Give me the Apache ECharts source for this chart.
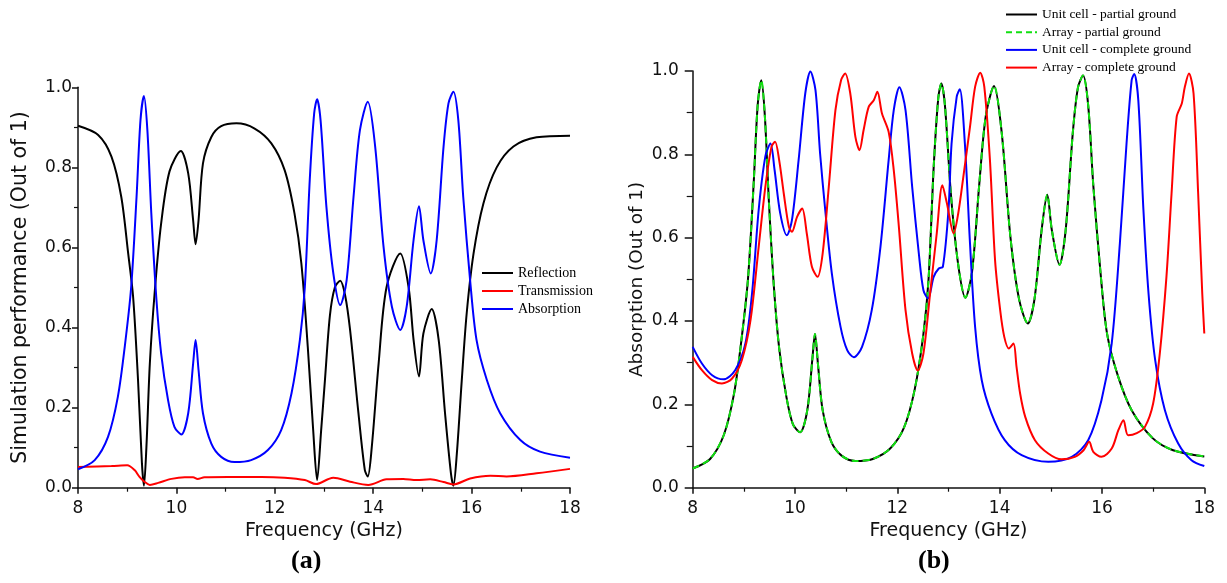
<!DOCTYPE html>
<html>
<head>
<meta charset="utf-8">
<script src="https://cdn.jsdelivr.net/npm/echarts@6/dist/echarts.min.js"></script>
<style>
html,body{margin:0;padding:0;background:#fff;}
#c{width:1227px;height:583px;}
</style>
</head>
<body>
<div id="c"></div>
<script>
// ---------- DATA (frequency GHz, value out of 1) ----------
const xMin = 8, xMax = 18, xStep = 2;
const yMin = 0, yMax = 1, yStep = 0.2;

const leftNames = ['Reflection', 'Transmission', 'Absorption'];
const rightNames = ['Unit cell - partial ground', 'Array - partial ground', 'Unit cell - complete ground', 'Array - complete ground'];

const reflection = [[8.00,0.904],[8.41,0.881],[8.68,0.827],[8.88,0.726],[9.02,0.585],[9.12,0.477],[9.22,0.269],[9.30,0.06],[9.34,0.005],[9.39,0.10],[9.46,0.31],[9.56,0.49],[9.69,0.66],[9.86,0.79],[10.09,0.841],[10.24,0.785],[10.34,0.668],[10.39,0.608],[10.45,0.668],[10.54,0.81],[10.71,0.876],[10.91,0.903],[11.22,0.910],[11.59,0.897],[11.93,0.86],[12.20,0.793],[12.40,0.685],[12.54,0.56],[12.67,0.352],[12.78,0.144],[12.86,0.019],[12.94,0.14],[13.02,0.27],[13.12,0.43],[13.22,0.50],[13.33,0.517],[13.43,0.48],[13.53,0.394],[13.70,0.186],[13.83,0.044],[13.89,0.028],[13.97,0.10],[14.11,0.31],[14.27,0.50],[14.55,0.585],[14.72,0.50],[14.82,0.37],[14.93,0.278],[15.02,0.385],[15.19,0.446],[15.33,0.37],[15.46,0.186],[15.58,0.036],[15.63,0.005],[15.70,0.085],[15.80,0.268],[15.90,0.435],[16.04,0.585],[16.24,0.71],[16.51,0.80],[16.85,0.852],[17.32,0.875],[18.0,0.879]];

const transmission = [[8.0,0.052],[8.68,0.054],[9.0,0.056],[9.15,0.044],[9.25,0.027],[9.35,0.015],[9.46,0.007],[9.63,0.012],[9.90,0.022],[10.17,0.026],[10.34,0.026],[10.43,0.022],[10.57,0.026],[11.05,0.027],[11.73,0.027],[12.20,0.025],[12.61,0.019],[12.84,0.009],[13.08,0.021],[13.19,0.025],[13.53,0.015],[13.90,0.007],[14.27,0.021],[14.61,0.022],[14.88,0.019],[15.16,0.021],[15.43,0.014],[15.63,0.008],[15.97,0.023],[16.38,0.030],[16.71,0.028],[17.32,0.036],[18.0,0.047]];

const absorption = [[8.0,0.046],[8.34,0.069],[8.61,0.127],[8.81,0.227],[8.95,0.352],[9.08,0.50],[9.19,0.726],[9.27,0.918],[9.34,0.978],[9.41,0.893],[9.49,0.685],[9.59,0.477],[9.69,0.335],[9.83,0.219],[9.96,0.152],[10.10,0.133],[10.24,0.186],[10.34,0.31],[10.39,0.369],[10.45,0.294],[10.54,0.186],[10.71,0.11],[10.91,0.077],[11.18,0.064],[11.52,0.069],[11.86,0.094],[12.13,0.144],[12.34,0.236],[12.51,0.369],[12.61,0.50],[12.71,0.768],[12.80,0.935],[12.86,0.97],[12.93,0.918],[13.05,0.70],[13.19,0.535],[13.33,0.456],[13.46,0.518],[13.60,0.726],[13.73,0.893],[13.89,0.964],[14.04,0.852],[14.21,0.602],[14.38,0.452],[14.55,0.394],[14.68,0.452],[14.82,0.618],[14.93,0.703],[15.02,0.618],[15.17,0.535],[15.29,0.618],[15.43,0.852],[15.53,0.96],[15.63,0.989],[15.73,0.918],[15.83,0.726],[15.97,0.518],[16.10,0.369],[16.31,0.269],[16.58,0.186],[16.99,0.119],[17.39,0.09],[18.0,0.075]];

// (b) partial ground: unit cell and array coincide with the absorption of (a)
const unitPartial = absorption;
const arrayPartial = absorption;

const unitComplete = [[8.0,0.338],[8.18,0.298],[8.38,0.270],[8.60,0.260],[8.83,0.282],[9.03,0.346],[9.16,0.466],[9.29,0.667],[9.42,0.795],[9.52,0.826],[9.60,0.763],[9.71,0.659],[9.84,0.606],[9.94,0.642],[10.07,0.786],[10.20,0.946],[10.30,0.999],[10.40,0.954],[10.49,0.802],[10.59,0.667],[10.72,0.514],[10.89,0.386],[11.02,0.330],[11.15,0.313],[11.31,0.338],[11.50,0.426],[11.67,0.578],[11.83,0.786],[11.93,0.906],[12.04,0.961],[12.16,0.906],[12.29,0.722],[12.42,0.562],[12.51,0.474],[12.60,0.454],[12.71,0.506],[12.81,0.526],[12.89,0.530],[13.00,0.667],[13.06,0.826],[13.16,0.938],[13.22,0.956],[13.32,0.826],[13.42,0.587],[13.52,0.386],[13.65,0.258],[13.84,0.178],[14.10,0.114],[14.43,0.078],[14.95,0.062],[15.41,0.074],[15.73,0.114],[15.99,0.210],[16.19,0.346],[16.35,0.587],[16.48,0.826],[16.58,0.978],[16.63,0.993],[16.71,0.93],[16.81,0.667],[16.91,0.466],[17.04,0.306],[17.23,0.186],[17.49,0.106],[17.75,0.066],[18.0,0.052]];

const arrayComplete = [[8.0,0.314],[8.18,0.282],[8.38,0.258],[8.57,0.250],[8.77,0.262],[8.96,0.306],[9.13,0.402],[9.29,0.578],[9.42,0.722],[9.54,0.818],[9.61,0.830],[9.69,0.786],[9.78,0.706],[9.88,0.626],[9.94,0.614],[10.04,0.650],[10.14,0.670],[10.23,0.610],[10.33,0.530],[10.44,0.506],[10.54,0.562],[10.66,0.722],[10.79,0.906],[10.90,0.978],[10.98,0.994],[11.08,0.946],[11.18,0.842],[11.26,0.810],[11.34,0.858],[11.44,0.914],[11.54,0.930],[11.61,0.950],[11.70,0.898],[11.83,0.854],[11.93,0.762],[12.03,0.626],[12.16,0.426],[12.29,0.322],[12.40,0.281],[12.51,0.322],[12.64,0.466],[12.77,0.610],[12.88,0.726],[12.97,0.682],[13.10,0.610],[13.19,0.658],[13.29,0.746],[13.42,0.866],[13.52,0.962],[13.62,0.996],[13.70,0.962],[13.81,0.786],[13.91,0.546],[14.01,0.426],[14.09,0.362],[14.18,0.334],[14.27,0.346],[14.33,0.290],[14.40,0.226],[14.50,0.170],[14.69,0.114],[14.95,0.082],[15.21,0.068],[15.47,0.074],[15.64,0.090],[15.75,0.110],[15.83,0.086],[15.99,0.074],[16.19,0.094],[16.32,0.138],[16.42,0.162],[16.51,0.126],[16.68,0.131],[16.84,0.146],[17.00,0.202],[17.13,0.322],[17.26,0.506],[17.36,0.706],[17.46,0.890],[17.56,0.922],[17.62,0.962],[17.70,0.994],[17.79,0.946],[17.88,0.706],[17.96,0.466],[18.0,0.370]];

// ---------- CHART ----------
const SANS = 'DejaVu Sans';
const SERIF = 'Liberation Serif';
const AX = '#111';
const GREEN = '#11e011';
const SOLID_ICON = 'path://M0,0H31V2H0Z';
const DASH_ICON = 'path://M0,0H6V2H0Z M10,0H16V2H10Z M20,0H26V2H20Z M29,0H31V2H29Z';

function xAxisCfg(gridIndex) {
  return {
    type: 'value', gridIndex, min: xMin, max: xMax, interval: xStep,
    name: 'Frequency (GHz)', nameLocation: 'middle', nameGap: 31,
    nameTextStyle: {fontFamily: SANS, fontSize: 19, color: AX},
    axisLine: {show: true, onZero: false, lineStyle: {color: AX, width: 1.5}},
    axisTick: {show: true, inside: false, length: 6, lineStyle: {color: AX, width: 1.5}},
    minorTick: {show: true, splitNumber: 2, length: 4, lineStyle: {color: AX, width: 1.2}},
    splitLine: {show: false}, minorSplitLine: {show: false},
    axisLabel: {fontFamily: SANS, fontSize: 17, color: AX, margin: 12}
  };
}
function yAxisCfg(gridIndex, name, nameGap, nameSize, labelMargin, tickLen) {
  return {
    type: 'value', gridIndex, min: yMin, max: yMax, interval: yStep,
    name, nameLocation: 'middle', nameGap,
    nameTextStyle: {fontFamily: SANS, fontSize: nameSize, color: AX},
    axisLine: {show: true, onZero: false, lineStyle: {color: AX, width: 1.5}},
    axisTick: {show: true, inside: false, length: tickLen, lineStyle: {color: AX, width: 1.5}},
    minorTick: {show: true, splitNumber: 2, length: tickLen - 2, lineStyle: {color: AX, width: 1.2}},
    splitLine: {show: false}, minorSplitLine: {show: false},
    axisLabel: {fontFamily: SANS, fontSize: 17, color: AX, margin: labelMargin,
      formatter: v => v.toFixed(1)}
  };
}
function line(name, data, xi, color, extra) {
  return Object.assign({
    name, type: 'line', xAxisIndex: xi, yAxisIndex: xi, data,
    symbol: 'none', smooth: 0.3, clip: true,
    lineStyle: {color, width: 2}, itemStyle: {color}
  }, extra || {});
}

const chart = echarts.init(document.getElementById('c'), null, {renderer: 'canvas'});
chart.setOption({
  animation: false,
  backgroundColor: '#fff',
  grid: [
    {left: 78, right: 657, top: 87.3, bottom: 95.3},
    {left: 692.7, right: 22.7, top: 71, bottom: 95.3}
  ],
  xAxis: [xAxisCfg(0), xAxisCfg(1)],
  yAxis: [
    yAxisCfg(0, 'Simulation performance (Out of 1)', 47, 20.5, 6, 6),
    yAxisCfg(1, 'Absorption (Out of 1)', 46, 18.5, 14, 8)
  ],
  legend: [
    {data: leftNames.map(n => ({name: n, icon: SOLID_ICON})),
     orient: 'vertical', left: 482, top: 266, padding: 0,
     itemWidth: 31, itemHeight: 2.2, itemGap: 4, selectedMode: false,
     textStyle: {fontFamily: SERIF, fontSize: 14, color: '#000', lineHeight: 14}},
    {data: rightNames.map((n, i) => ({name: n, icon: i === 1 ? DASH_ICON : SOLID_ICON})),
     orient: 'vertical', left: 1006, top: 7.5, padding: 0,
     itemWidth: 31, itemHeight: 2.2, itemGap: 3.7, selectedMode: false,
     textStyle: {fontFamily: SERIF, fontSize: 13.5, color: '#000', lineHeight: 13}}
  ],
  series: [
    line(leftNames[0], reflection, 0, '#000000'),
    line(leftNames[1], transmission, 0, '#ff0000'),
    line(leftNames[2], absorption, 0, '#0000ff'),
    line(rightNames[0], unitPartial, 1, '#000000'),
    line(rightNames[1], arrayPartial, 1, GREEN, {lineStyle: {color: GREEN, width: 2, type: [7, 4]}}),
    line(rightNames[2], unitComplete, 1, '#0000ff'),
    line(rightNames[3], arrayComplete, 1, '#ff0000')
  ],
  graphic: [
    {type: 'text', left: 291, top: 548, style: {text: '(a)', font: 'bold 26px "Liberation Serif"', fill: '#000'}},
    {type: 'text', left: 918, top: 548, style: {text: '(b)', font: 'bold 26px "Liberation Serif"', fill: '#000'}}
  ]
});
</script>
</body>
</html>
